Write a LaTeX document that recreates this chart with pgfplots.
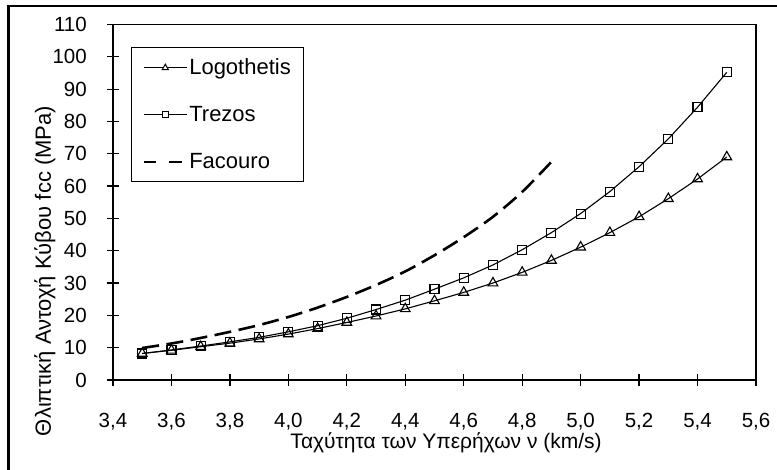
\documentclass[border=0pt]{standalone}
\usepackage{fontspec}
\setmainfont{Liberation Sans}
\usepackage{pgfplots}
\pgfplotsset{compat=1.18}
\begin{document}
\begin{tikzpicture}
\useasboundingbox (-113pt,-90pt) rectangle (664pt,380pt);
\begin{axis}[
scale only axis,
width=643pt, height=355.5pt,
xmin=3.4, xmax=5.6, ymin=0, ymax=110,
xtick={3.4,3.6,...,5.61}, ytick={0,10,...,110},
xtick pos=bottom, ytick pos=left,
tick align=center, major tick length=12pt,
every tick/.style={black, line width=1.2pt},
axis line style={line width=1.2pt},
/pgf/number format/assume math mode=true,
tick label style={font=\fontsize{20.5}{24}\selectfont},
xticklabel style={anchor=north, inner sep=0pt, yshift=-27pt,
  /pgf/number format/.cd, fixed, fixed zerofill, precision=1, use comma},
yticklabel style={anchor=east, inner sep=0pt, xshift=-20pt},
every axis x label/.style={at={(axis description cs:0.518,-0.177)}, anchor=center,
  font=\fontsize{21}{25}\selectfont},
every axis y label/.style={at={(axis description cs:-0.1058,0.3066)}, rotate=90, anchor=center,
  font=\fontsize{22}{26}\selectfont},
xlabel={Ταχύτητα των Υπερήχων ν (km/s)},
ylabel={Θλιπτική Αντοχή Κύβου fcc (MPa)},
legend style={at={(0.028,0.9367)}, anchor=north west, draw=black, line width=1pt,
  font=\fontsize{22}{26}\selectfont, row sep=26.5pt, inner xsep=11pt, inner ysep=9pt,
  cells={anchor=west}},
]
\addplot[black, line width=1.1pt, mark=triangle, mark size=5.6pt,
  mark options={solid, line width=1.1pt},
  legend image code/.code={
    \draw[black, line width=1pt] (0pt,0pt) -- (43pt,0pt);
    \draw[black, line width=1pt, fill=white] (18.5pt,-2.3pt) -- (24.5pt,-2.3pt) -- (21.5pt,3pt) -- cycle;}]
coordinates {
(3.5,8.2) (3.6,9.2) (3.7,10.3) (3.8,11.4) (3.9,12.7) (4.0,14.2) (4.1,15.9)
(4.2,17.8) (4.3,19.8) (4.4,22.0) (4.5,24.5) (4.6,27.1) (4.7,30.0) (4.8,33.3)
(4.9,37.0) (5.0,41.1) (5.1,45.6) (5.2,50.5) (5.3,56.1) (5.4,62.2) (5.5,69.0)
};
\addlegendentry{Logothetis}
\addplot[black, line width=1.1pt, mark=square, mark size=4.5pt,
  mark options={solid, line width=1.1pt},
  legend image code/.code={
    \draw[black, line width=1pt] (0pt,0pt) -- (43pt,0pt);
    \draw[black, line width=1pt, fill=white] (18.5pt,-3pt) rectangle (24.5pt,3pt);}]
coordinates {
(3.5,8.2) (3.6,9.3) (3.7,10.5) (3.8,11.8) (3.9,13.2) (4.0,14.9) (4.1,16.8)
(4.2,19.1) (4.3,21.8) (4.4,24.7) (4.5,28.1) (4.6,31.6) (4.7,35.6) (4.8,40.3)
(4.9,45.6) (5.0,51.5) (5.1,58.3) (5.2,66.0) (5.3,74.6) (5.4,84.4) (5.5,95.2)
};
\addlegendentry{Trezos}
\addplot[black, line width=2.6pt, smooth, dash pattern=on 17pt off 7.5pt,
  legend image code/.code={
    \draw[black, line width=2.6pt] (0pt,0pt) -- (12pt,0pt) (25pt,0pt) -- (38pt,0pt);}]
coordinates {
(3.5,9.9) (3.6,11.3) (3.7,13.0) (3.8,14.9) (3.9,17.0) (4.0,19.5) (4.1,22.4)
(4.2,25.7) (4.3,29.4) (4.4,33.6) (4.5,38.6) (4.6,44.2) (4.7,50.5) (4.8,58.2)
(4.9,67.5)
};
\addlegendentry{Facouro}
\draw[black, line width=2pt] (rel axis cs:0,1) -- (rel axis cs:0,0) -- (rel axis cs:1,0);
\end{axis}
\draw[black, line width=2.5pt] (-104.5pt,-95pt) -- (-104.5pt,374pt) -- (670pt,374pt);
\end{tikzpicture}
\end{document}
